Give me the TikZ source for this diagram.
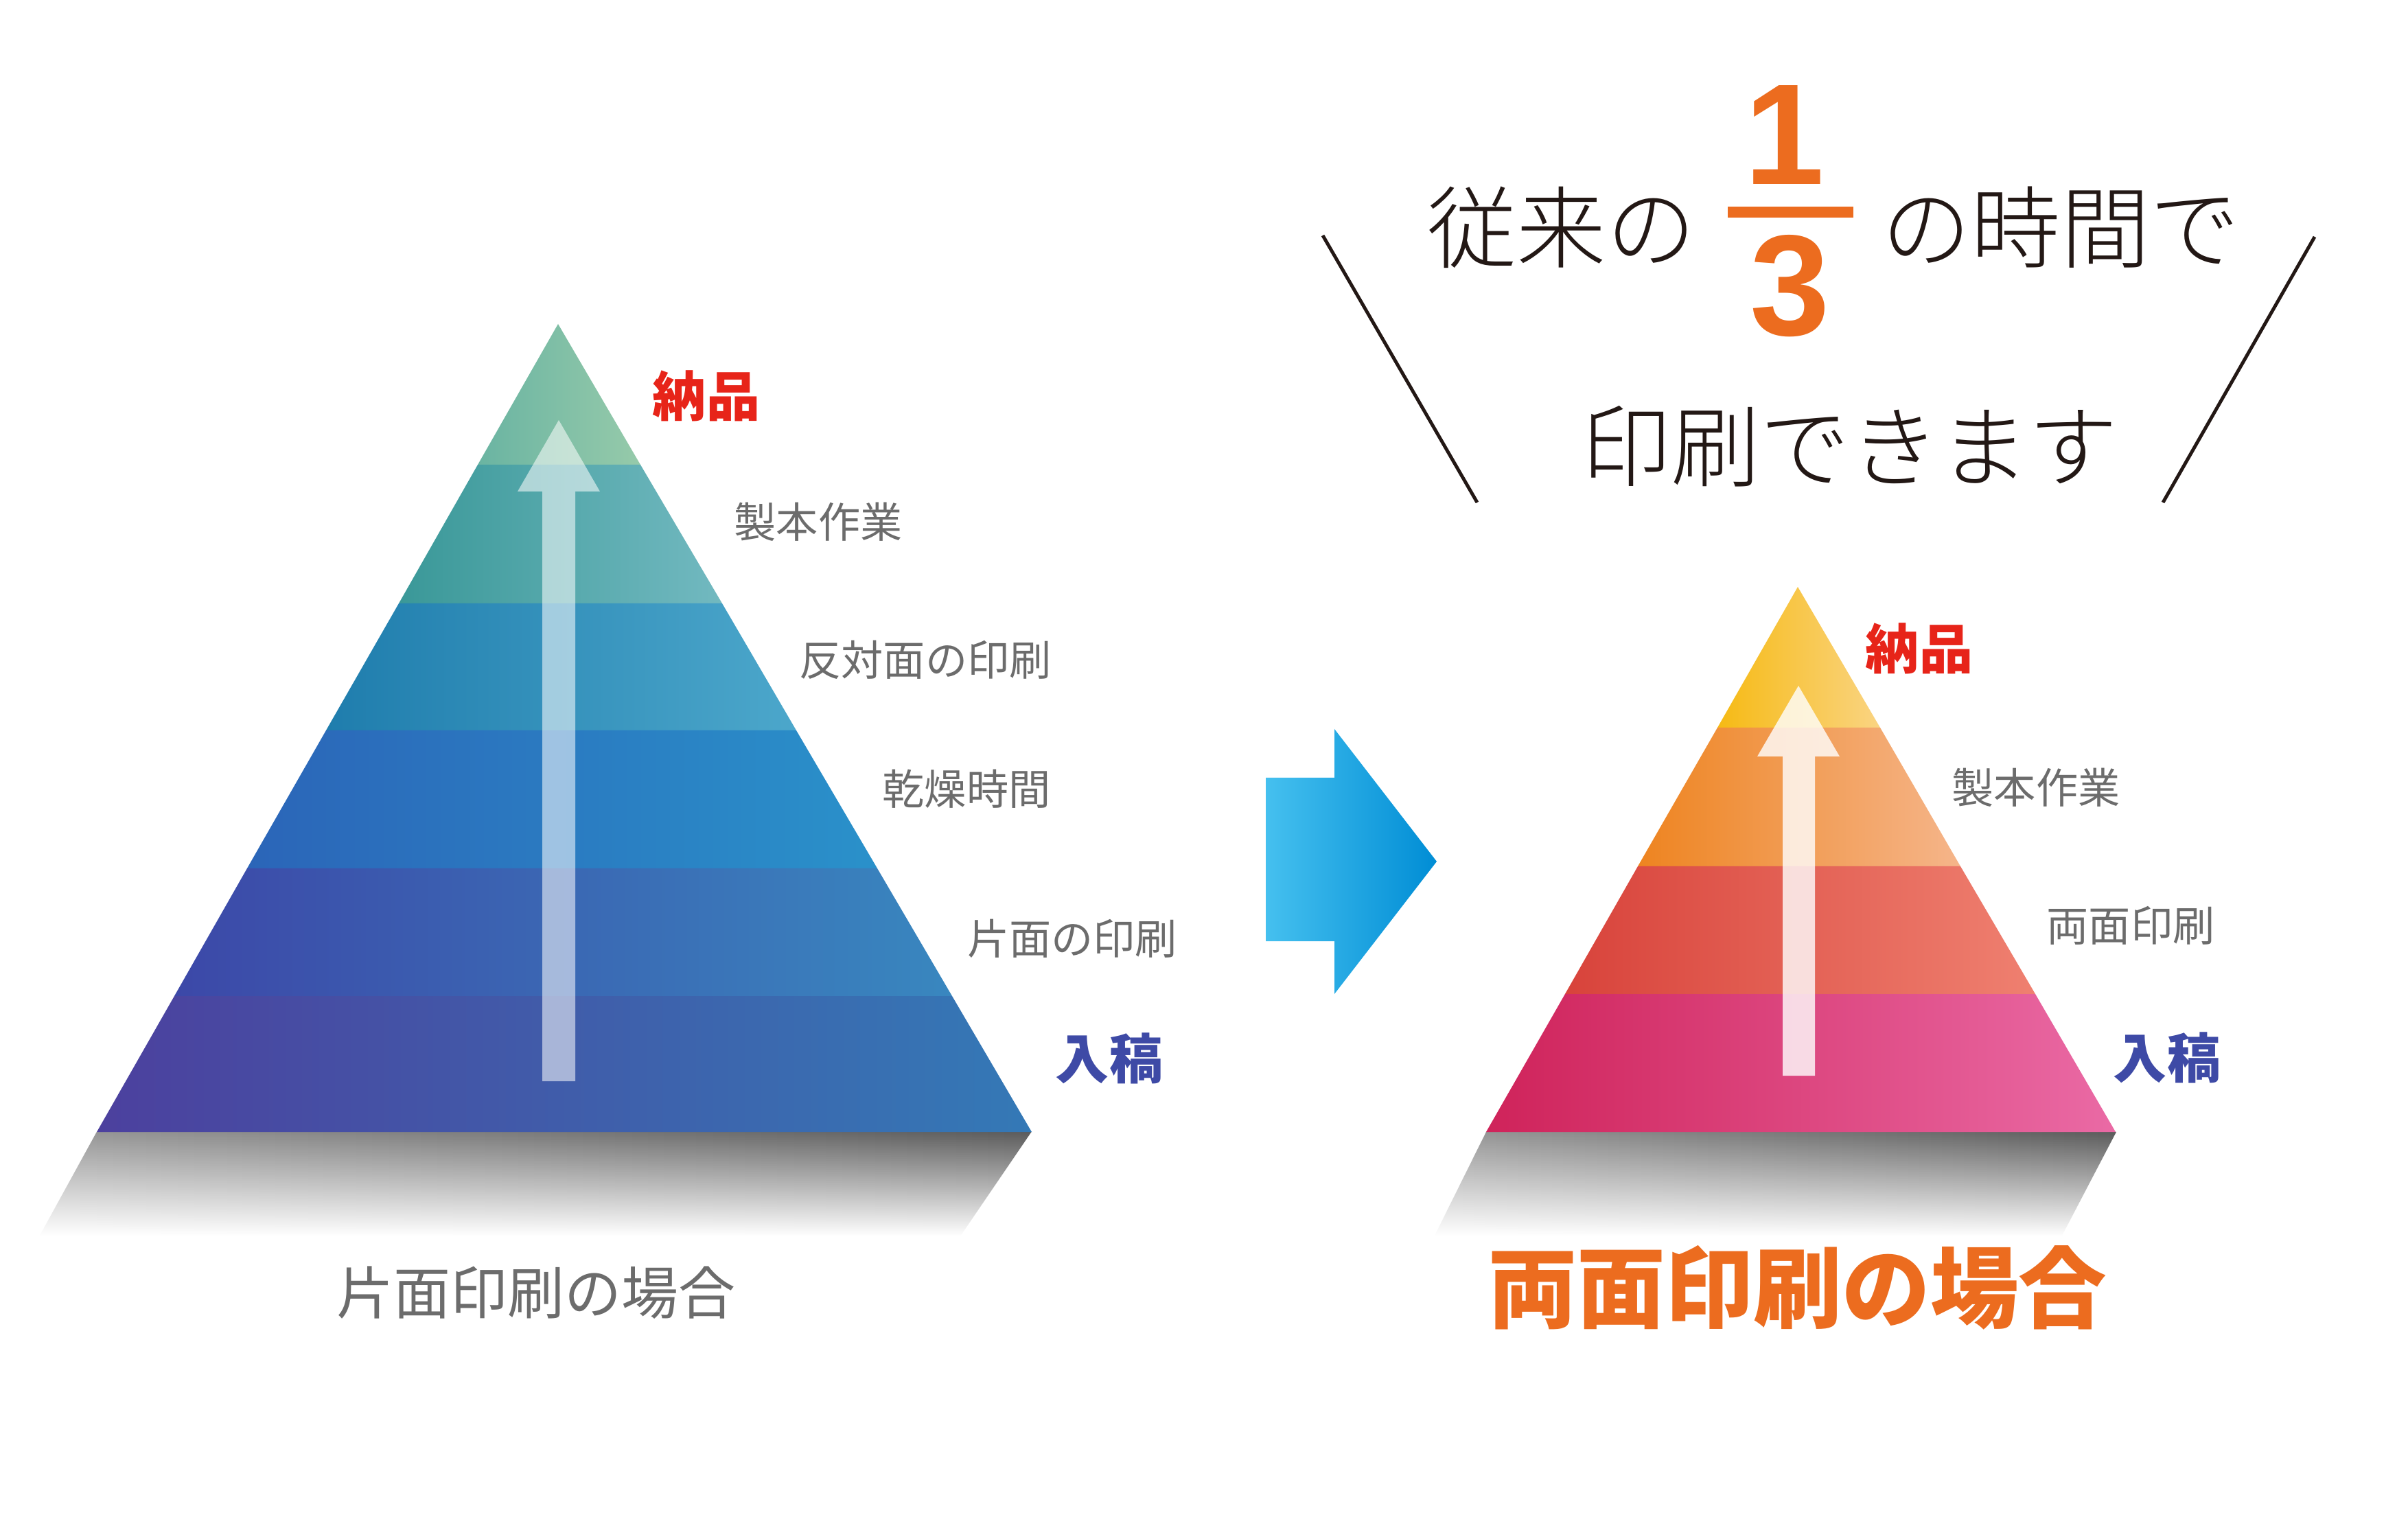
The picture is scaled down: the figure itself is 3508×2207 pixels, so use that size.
\documentclass[tikz,border=0pt]{standalone}
\usepackage{fontspec}
\usetikzlibrary{fadings}
\newfontfamily\jp{Noto Sans CJK JP}
\IfFontExistsTF{Noto Sans CJK JP Light}{\newfontfamily\jplight{Noto Sans CJK JP Light}}{\newfontfamily\jplight{Noto Sans CJK JP}}
\newfontfamily\digitfont{Liberation Sans}
\definecolor{labelgray}{HTML}{6C6C6C}
\definecolor{keyred}{HTML}{E72419}
\definecolor{keyblue}{HTML}{3E4AA6}
\definecolor{accent}{HTML}{EC6C1F}
\definecolor{ink}{HTML}{231815}
% left pyramid bands
\definecolor{lAa}{HTML}{6AB4A2}\definecolor{lAb}{HTML}{96CAAA}
\definecolor{lBa}{HTML}{3A9898}\definecolor{lBb}{HTML}{72B9C0}
\definecolor{lCa}{HTML}{1F7DAD}\definecolor{lCm}{HTML}{1E8DBE}\definecolor{lCb}{HTML}{4CA7CB}
\definecolor{lDa}{HTML}{2B65B8}\definecolor{lDm}{HTML}{2C7AC2}\definecolor{lDb}{HTML}{2A91CA}
\definecolor{lEa}{HTML}{3C48A8}\definecolor{lEm}{HTML}{3C62B0}\definecolor{lEb}{HTML}{3987BF}
\definecolor{lFa}{HTML}{4C409E}\definecolor{lFm}{HTML}{4752AA}\definecolor{lFb}{HTML}{3479B6}
% right pyramid bands
\definecolor{rAa}{HTML}{F6BA14}\definecolor{rAb}{HTML}{FAD482}
\definecolor{rBa}{HTML}{EE8420}\definecolor{rBb}{HTML}{F5B58A}
\definecolor{rCa}{HTML}{D8433B}\definecolor{rCb}{HTML}{EF8070}
\definecolor{rDa}{HTML}{CF235A}\definecolor{rDm}{HTML}{E0267A}\definecolor{rDb}{HTML}{EA6AA5}
% blue arrow
\definecolor{barA}{HTML}{45C0EF}\definecolor{barM}{HTML}{03A0E5}\definecolor{barB}{HTML}{008DD5}
\tikzfading[name=shadowfade, top color=transparent!0, middle color=transparent!88, bottom color=transparent!100]
\begin{document}
\begin{tikzpicture}[x=0.01cm,y=-0.01cm,
  lbl/.style={inner sep=0, anchor=base, text=labelgray, font=\jp\fontsize{17.4pt}{20pt}\selectfont},
  keylbl/.style={inner sep=0, anchor=base, font=\jp\bfseries\fontsize{22.2pt}{26pt}\selectfont},
  titletext/.style={inner sep=0, anchor=base, text=ink, font=\jplight\fontsize{37pt}{42pt}\selectfont},
  digit/.style={inner sep=0, anchor=base, text=accent, font=\digitfont\bfseries\fontsize{59.5pt}{66pt}\selectfont},
  uparrow/.style={fill=white, draw=none},
  slash/.style={draw=ink, line width=1.4pt},
  shadowpoly/.style={left color=black!40, right color=black!64, path fading=shadowfade}
]
\useasboundingbox (0,0) rectangle (3508,2207);
\fill[white] (0,0) rectangle (3508,2207);

% ---------- left pyramid ----------
\shade[shadowpoly] (141,1649) -- (1503,1649) -- (1400,1800) -- (58,1800) -- cycle;
\shade[left color=lAa, right color=lAb] (813,472) -- (933,677) -- (696,677) -- cycle;
\shade[left color=lBa, right color=lBb] (696,677) -- (933,677) -- (1052,879) -- (581,879) -- cycle;
\shade[left color=lCa, middle color=lCm, right color=lCb] (581,879) -- (1052,879) -- (1160,1064) -- (475,1064) -- cycle;
\shade[left color=lDa, middle color=lDm, right color=lDb] (475,1064) -- (1160,1064) -- (1278,1265) -- (360,1265) -- cycle;
\shade[left color=lEa, middle color=lEm, right color=lEb] (360,1265) -- (1278,1265) -- (1387,1451) -- (254,1451) -- cycle;
\shade[left color=lFa, middle color=lFm, right color=lFb] (254,1451) -- (1387,1451) -- (1503,1649) -- (141,1649) -- cycle;
\fill[uparrow, fill opacity=0.55] (814,612) -- (874,716) -- (838,716) -- (838,1575) -- (790,1575) -- (790,716) -- (754,716) -- cycle;

\node[keylbl, text=keyred] (lnouhin) at (1029,607) {納品};
\node[lbl] (lseihon) at (1192,784) {製本作業};
\node[lbl] (lhantai) at (1348,985) {反対面の印刷};
\node[lbl] (lkansou) at (1408,1173) {乾燥時間};
\node[lbl] (lkatamen) at (1562,1390) {片面の印刷};
\node[keylbl, text=keyblue] (lnyuukou) at (1616,1571) {入稿};
\node[inner sep=0, anchor=base, text=labelgray, font=\jp\fontsize{23.6pt}{28pt}\selectfont] (lcaption) at (781,1914) {片面印刷の場合};

% ---------- blue arrow ----------
\shade[left color=barA, middle color=barM, right color=barB] (1844,1133) -- (1944,1133) -- (1944,1062) -- (2093,1255) -- (1944,1448) -- (1944,1371) -- (1844,1371) -- cycle;

% ---------- right pyramid ----------
\shade[shadowpoly] (2165,1649) -- (3083,1649) -- (3004,1800) -- (2090,1800) -- cycle;
\shade[left color=rAa, right color=rAb] (2619,855) -- (2739,1060) -- (2502,1060) -- cycle;
\shade[left color=rBa, right color=rBb] (2502,1060) -- (2739,1060) -- (2856,1262) -- (2386,1262) -- cycle;
\shade[left color=rCa, right color=rCb] (2386,1262) -- (2856,1262) -- (2965,1448) -- (2280,1448) -- cycle;
\shade[left color=rDa, middle color=rDm, right color=rDb] (2280,1448) -- (2965,1448) -- (3082,1649) -- (2165,1649) -- cycle;
\fill[uparrow, fill opacity=0.8] (2620,999) -- (2680,1102) -- (2644,1102) -- (2644,1567) -- (2597,1567) -- (2597,1102) -- (2560,1102) -- cycle;

\node[keylbl, text=keyred] (rnouhin) at (2796,975) {納品};
\node[lbl] (rseihon) at (2966,1171) {製本作業};
\node[lbl] (rryoumen) at (3104,1372) {両面印刷};
\node[keylbl, text=keyblue] (rnyuukou) at (3157,1570) {入稿};
\node[inner sep=0, anchor=base, text=accent, font=\jp\bfseries\fontsize{36.6pt}{42pt}\selectfont] (rcaption) at (2619,1924) {両面印刷の場合};

% ---------- title ----------
\coordinate (s1a) at (1927,343); \coordinate (s1b) at (2152,732);
\coordinate (s2a) at (3372,345); \coordinate (s2b) at (3151,732);
\draw[slash] (s1a) -- (s1b);
\draw[slash] (s2a) -- (s2b);
\node[titletext] (t1) at (2275,381) {従来の};
\node[titletext] (t2) at (3002,381) {の時間で};
\node[titletext] (t3) at (2695,700) {印刷できます};
\node[digit] (num) at (2600,269) {1};
\node[digit] (den) at (2608,489) {3};
\fill[accent] (2517,301) rectangle (2700,317);
\end{tikzpicture}
\end{document}
